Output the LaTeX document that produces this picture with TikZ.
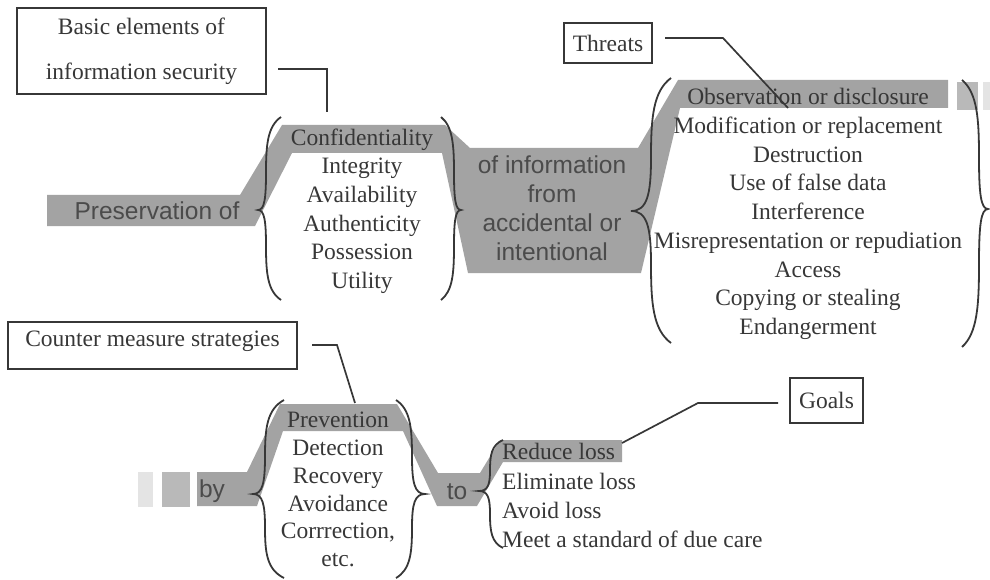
\documentclass[tikz,border=0pt]{standalone}
\usepackage{fontspec}
\setmainfont{Liberation Serif}
\newfontfamily\sansf{Liberation Sans}
\definecolor{band}{RGB}{163,163,163}
\definecolor{bandlt}{RGB}{185,185,185}
\definecolor{bandxlt}{RGB}{228,228,228}
\definecolor{ink}{RGB}{55,55,55}
\definecolor{sink}{RGB}{75,75,75}
\newcommand{\mybrace}[6]{%
 \draw[bracestyle] (#1,#2) .. controls ({#6+0.1*(#1-#6)},{#2+0.1*(#5-#2)}) and (#6,{#2+0.3*(#5-#2)}) .. (#6,{#2+0.6*(#5-#2)})
 .. controls (#6,{#5-0.12*(#5-#2)}) and ({#6-0.2*(#6-#4)},#5) .. (#4,#5)
 .. controls ({#6-0.2*(#6-#4)},#5) and (#6,{#5+0.12*(#3-#5)}) .. (#6,{#5+0.4*(#3-#5)})
 .. controls (#6,{#3-0.3*(#3-#5)}) and ({#6+0.1*(#1-#6)},{#3-0.1*(#3-#5)}) .. (#1,#3);}
\begin{document}
\begin{tikzpicture}[x=1pt,y=-1pt,
  bracestyle/.style={draw=ink,line width=1.8pt},
  link/.style={draw=ink,line width=1.7pt},
  serifl/.style={text=ink,inner sep=0pt,align=center,font=\fontsize{23.5}{28.7}\selectfont},
  sansl/.style={text=sink,inner sep=0pt,align=center,font=\sansf\fontsize{24.5}{29}\selectfont},
  labelbox/.style={draw=ink,line width=1.7pt,text=ink,inner sep=0pt,align=center,font=\fontsize{23.5}{28.7}\selectfont}]
\useasboundingbox (0,0) rectangle (990,580);
% gray bands
\fill[band] (47,195) -- (240,195) -- (282,125) -- (445,125) -- (470,148) -- (638,148) -- (678,80) -- (948,80) -- (948,108) -- (680,108) -- (641,273) -- (468,273) -- (442,153) -- (292,153) -- (255,226) -- (47,226) -- cycle;
\fill[bandlt] (957,82) rectangle (978,110);
\fill[bandxlt] (983,82) rectangle (990,110);
\fill[band] (197,472) -- (247,472) -- (280,404) -- (397,404) -- (438,473) -- (480,473) -- (500,440) -- (622,440) -- (622,462) -- (503,462) -- (477,506) -- (437,506) -- (403,431) -- (283,431) -- (257,506) -- (197,506) -- cycle;
\fill[bandlt] (162,472) rectangle (190,507);
\fill[bandxlt] (138,472) rectangle (153,507);
% braces
\mybrace{281}{117}{300}{258}{210}{266}
\mybrace{441}{117}{300}{461}{210}{454}
\mybrace{671}{78}{343}{631}{211}{651}
\mybrace{962}{80}{347}{988}{209}{979}
\mybrace{284}{400}{578}{253}{494}{265}
\mybrace{396}{400}{578}{425}{494}{412}
\mybrace{503}{440}{548}{479}{491}{490}
% texts
\node[sansl] (pres) at (157,211) {Preservation of};
\node[serifl] (elements) at (362,211.2) {Confidentiality\\Integrity\\Availability\\Authenticity\\Possession\\Utility};
\node[sansl] (ofinfo) at (552,208) {of information\\from\\accidental or\\intentional};
\node[serifl] (threatlist) at (808,214) {Observation or disclosure\\Modification or replacement\\Destruction\\Use of false data\\Interference\\Misrepresentation or repudiation\\Access\\Copying or stealing\\Endangerment};
\node[sansl] (by) at (212,491) {by};
\node[sansl] (to) at (457,492) {to};
\node[serifl,font=\fontsize{23.5}{27.8}\selectfont] (strategies) at (338,489.5) {Prevention\\Detection\\Recovery\\Avoidance\\Corrrection,\\etc.};
\node[serifl,align=left,anchor=west,font=\fontsize{23.5}{29.3}\selectfont] (goallist) at (502,495.7) {Reduce loss\\Eliminate loss\\Avoid loss\\Meet a standard of due care};
% label boxes
\node[labelbox,minimum width=249pt,minimum height=86pt,font=\fontsize{23.5}{45}\selectfont] (basicbox) at (141.5,51) {Basic elements of\\information security};
\node[labelbox,minimum width=88pt,minimum height=40pt] (threatbox) at (608,43) {Threats};
\node[labelbox,minimum width=289pt,text height=16pt,text depth=15pt,inner ysep=8pt] (cmbox) at (152.5,345.5) {Counter measure strategies};
\node[labelbox,minimum width=73pt,minimum height=45pt] (goalbox) at (826.5,400.5) {Goals};
% connectors
\coordinate (k1a) at (278,69); \coordinate (k1b) at (327,112);
\draw[link] (k1a) -| (k1b);
\coordinate (k2a) at (665,38); \coordinate (k2b) at (723,38); \coordinate (k2c) at (788,108);
\draw[link] (k2a) -- (k2b) -- (k2c);
\coordinate (k3a) at (312,345); \coordinate (k3b) at (337,345); \coordinate (k3c) at (355,403);
\draw[link] (k3a) -- (k3b) -- (k3c);
\coordinate (k4a) at (778,403); \coordinate (k4b) at (698,403); \coordinate (k4c) at (622,443);
\draw[link] (k4a) -- (k4b) -- (k4c);
\end{tikzpicture}
\end{document}
